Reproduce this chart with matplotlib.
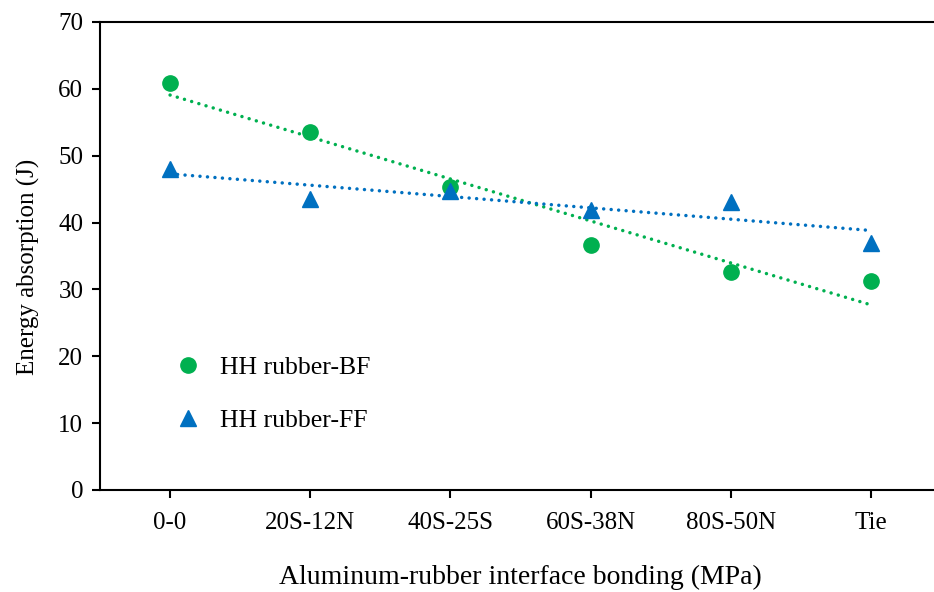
import numpy as np
import matplotlib.pyplot as plt

plt.rcParams['font.family'] = ['Liberation Serif', 'DejaVu Serif']

# Energy absorption (J) for each interface bonding level
categorias = ['0-0', '20S-12N', '40S-25S', '60S-38N', '80S-50N', 'Tie']
energia_bf = [60.9, 53.6, 45.3, 36.6, 32.6, 31.3]
energia_ff = [48.0, 43.6, 44.7, 41.9, 43.1, 37.0]

verde = '#00b050'
azul = '#0070c0'

x = np.arange(len(categorias))

fig = plt.figure(figsize=(9.34, 5.92), dpi=100)
# right spine falls just past the edge of the figure
ax = fig.add_axes([100 / 934, 102 / 592, 841 / 934, 468 / 592])

ax.plot(x, energia_bf, 'o', color=verde, markersize=11, label='HH rubber-BF', zorder=3)
ax.plot(x, energia_ff, '^', color=azul, markersize=11, label='HH rubber-FF', zorder=3)

# linear trend lines (round dots)
for serie, cor in [(energia_bf, verde), (energia_ff, azul)]:
    a, b = np.polyfit(x, serie, 1)
    ax.plot(x, a * x + b, linestyle=(0, (0.01, 2.15)), dash_capstyle='round',
            color=cor, linewidth=2.5, zorder=2)

ax.set_xlim(-0.5, 5.5)
ax.set_ylim(0, 70)
ax.set_yticks(range(0, 71, 10))
ax.set_xticks(x)
ax.set_xticklabels(categorias)

for s in ax.spines.values():
    s.set_linewidth(1.5)

ax.tick_params(axis='both', direction='out', length=6, width=1.5, labelsize=18)
ax.tick_params(axis='x', pad=10)
ax.tick_params(axis='y', pad=6)

ax.set_xlabel('Aluminum-rubber interface bonding (MPa)', fontsize=20, labelpad=22)
ax.set_ylabel('Energy absorption (J)', fontsize=18)
ax.yaxis.set_label_coords(-0.071, 0.476)

ax.legend(loc='lower left', bbox_to_anchor=(0.046, 0.075), frameon=False, fontsize=18.5,
          handletextpad=0.25, labelspacing=1.15, markerscale=1.0)

fig.savefig('out.png', dpi=100)
